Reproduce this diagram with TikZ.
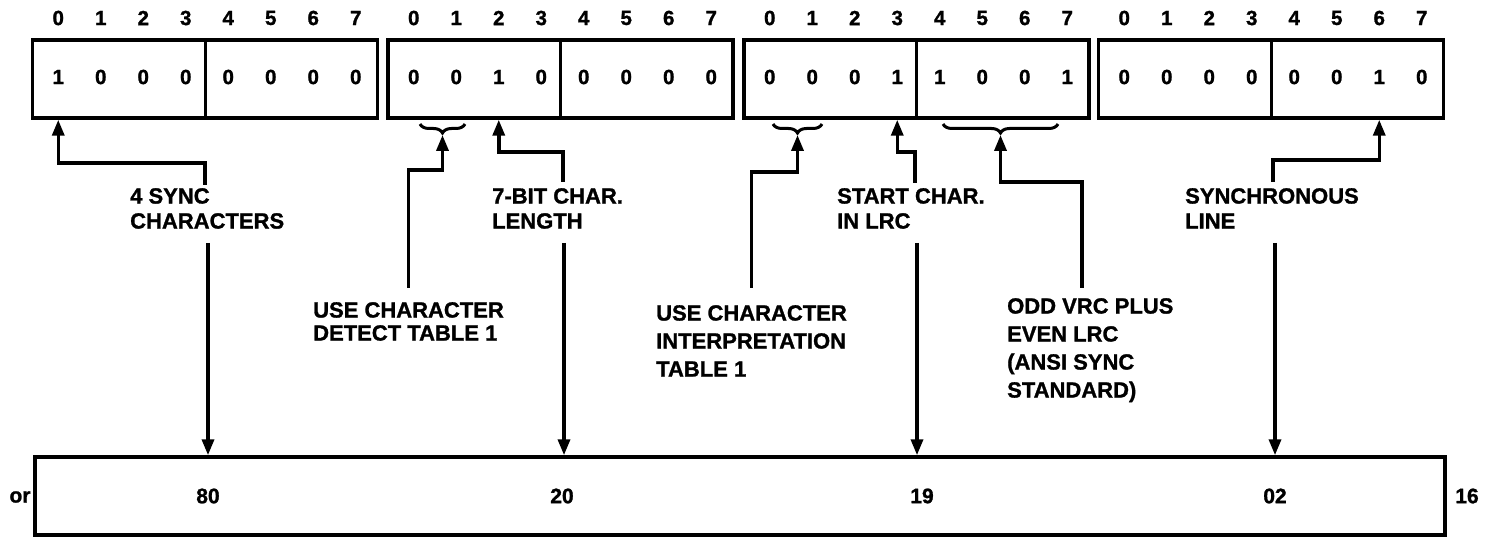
\documentclass[tikz,border=0pt]{standalone}
\usepackage{fontspec}
\setmainfont{Liberation Sans}
\newfontfamily\heavyfont{Liberation Sans Bold}[FakeBold=1.2]
\usetikzlibrary{arrows.meta,decorations.pathreplacing}
\begin{document}
\begin{tikzpicture}[x=1pt,y=-1pt,
  bytebox/.style={draw,line width=3.5pt,minimum width=345pt,minimum height=78pt,inner sep=0pt},
  bitnum/.style={font=\fontsize{20.5}{20.5}\heavyfont,inner sep=0pt},
  valnum/.style={font=\fontsize{21}{21}\heavyfont,inner sep=0pt},
  lbl/.style={font=\fontsize{22}{25}\heavyfont,align=left,anchor=north west,inner sep=0pt},
  lblwide/.style={lbl,font=\fontsize{22}{28}\heavyfont},
  lbltight/.style={lbl,font=\fontsize{22}{23}\heavyfont},
  divider/.style={line width=3pt},
  arr/.style={line width=3.5pt,-{Triangle[length=16pt,width=12pt]}},
  brc/.style={line width=3pt,decorate,decoration={brace,amplitude=9pt}},
]
\useasboundingbox (0,0) rectangle (1488,537);

% byte boxes
\foreach \b/\cx/\vals in {1/205/{1,0,0,0,0,0,0,0},2/560.5/{0,0,1,0,0,0,0,0},3/916.5/{0,0,0,1,1,0,0,1},4/1271/{0,0,0,0,0,0,1,0}}{
  \node[bytebox] (b\b) at (\cx,79) {};
  \draw[divider] (b\b.north) -- (b\b.south);
  \foreach \v [count=\i from 0] in \vals {
    \node[bitnum] (h\b\i) at ({\cx+(\i-3.5)*42.5+2},18) {\i};
    \node[bitnum] (d\b\i) at ({\cx+(\i-3.5)*42.5+2},77) {\v};
  }
}

% braces
\draw[brc] (465,124) -- (420,124);
\coordinate (br1) at (442.5,135);
\draw[brc] (822,124) -- (773,124);
\coordinate (br2) at (797.5,135);
\draw[brc] (1058,124) -- (943,124);
\coordinate (br3) at (1000.5,135);

% labels
\node[lbl] (l1) at (130,188) {4 SYNC\\CHARACTERS};
\node[lbltight] (l2) at (313,302) {USE CHARACTER\\DETECT TABLE 1};
\node[lbl] (l3) at (492,188) {7-BIT CHAR.\\LENGTH};
\node[lblwide] (l4) at (656,305) {USE CHARACTER\\INTERPRETATION\\TABLE 1};
\node[lbl] (l5) at (837,188) {START CHAR.\\IN LRC};
\node[lblwide] (l6) at (1007,298) {ODD VRC PLUS\\EVEN LRC\\(ANSI SYNC\\STANDARD)};
\node[lbl] (l7) at (1185,188) {SYNCHRONOUS\\LINE};

% result box
\node[draw,line width=3.5pt,minimum width=1410pt,minimum height=78pt,inner sep=0pt] (r) at (740,496) {};
\node[valnum] (v1) at (208,496) {80};
\node[valnum] (v2) at (562,496) {20};
\node[valnum] (v3) at (922,496) {19};
\node[valnum] (v4) at (1275,496) {02};
\node[valnum] (or) at (20,497) {or};
\node[valnum] (base) at (1467,496) {16};

% x positions of the vertical runs
\coordinate (x1t) at (205,0);
\coordinate (x1b) at (208,0);
\coordinate (x3t) at (563,0);
\coordinate (x3b) at (564,0);
\coordinate (x5t) at (915,0);
\coordinate (x5b) at (917,0);
\coordinate (x6t) at (1082,0);
\coordinate (x7t) at (1273,0);
\coordinate (x7b) at (1275,0);

% connectors up to the bits
\draw[arr] (l1.north -| x1t) ++(0,-3) -- ++(0,-22) -| (b1.south -| d10);
\draw[arr] (l2.north) ++(0,-14) -- ++(0,-118) -| (br1);
\draw[arr] (l3.north -| x3t) ++(0,-6) -- ++(0,-30) -| (b2.south -| d22);
\draw[arr] (l4.north) ++(0,-17) -- ++(0,-116) -| (br2);
\draw[arr] (l5.north -| x5t) ++(0,-5) -- ++(0,-31) -| (b3.south -| d33);
\draw[arr] (l6.north -| x6t) ++(0,-10) -- ++(0,-106) -| (br3);
\draw[arr] (l7.north -| x7t) ++(0,-6) -- ++(0,-22) -| (b4.south -| d46);

% connectors down to the result
\draw[arr] (l1.south -| x1b) ++(0,14) -- (r.north -| x1b);
\draw[arr] (l3.south -| x3b) ++(0,14) -- (r.north -| x3b);
\draw[arr] (l5.south -| x5b) ++(0,14) -- (r.north -| x5b);
\draw[arr] (l7.south -| x7b) ++(0,14) -- (r.north -| x7b);
\end{tikzpicture}
\end{document}
